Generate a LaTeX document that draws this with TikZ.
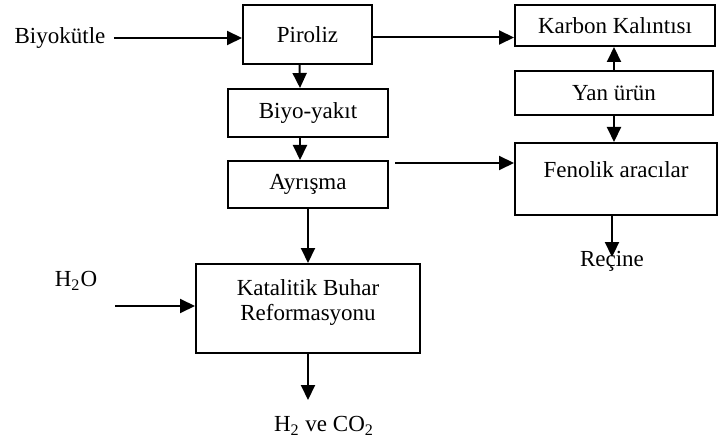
\documentclass[tikz,border=0pt]{standalone}
\usepackage{fontspec}
\setmainfont{Liberation Serif}
\usepackage{tikz}
\usetikzlibrary{arrows.meta}
\tikzstyle{Kutu}=[rectangle, draw=black, line width=1pt, inner sep=2pt, align=center, font=\fontsize{11.5}{12.5}\selectfont]
\tikzstyle{Etiket}=[inner sep=4pt, font=\fontsize{11.5}{12.5}\selectfont]
\tikzstyle{Ok}=[-{Triangle[length=7.5pt,width=7pt]}, line width=1pt]

\begin{document}
\begin{tikzpicture}[x=0.5pt, y=-0.5pt]
			\useasboundingbox (0,0) rectangle (727,443);
			%Kutular
			\node[Kutu, minimum width=64.5pt, minimum height=29.5pt]	(piroliz)	at (307.5,34.5)	{Piroliz};
			\node[Kutu, minimum width=80pt, minimum height=24pt]	(biyoyakit)	at (308,113)	{Biyo-yakıt};
			\node[Kutu, minimum width=80pt, minimum height=23.5pt]	(ayrisma)	at (308,184.5)	{Ayrışma};
			\node[Kutu, minimum width=112pt, minimum height=44.5pt, text depth=8.5pt]	(katalitik)	at (308,308.5)	{Katalitik Buhar\\Reformasyonu};

			\node[Kutu, minimum width=100pt, minimum height=20.5pt]	(karbon)	at (615,25.5)	{Karbon Kalıntısı};
			\node[Kutu, minimum width=99pt, minimum height=22pt]	(yanurun)	at (614,93)	{Yan ürün};
			\node[Kutu, minimum width=101pt, minimum height=36pt, text depth=9pt]	(fenolik)	at (616,179)	{Fenolik aracılar};

			%Etiketler
			\node[Etiket]	(biyokutle)	at (60,38)	{Biyokütle};
			\node[Etiket]	(su)	at (76,281)	{H\textsubscript{2}O};
			\node[Etiket, inner sep=2.5pt]	(recine)	at (612,261.5)	{Reçine};
			\node[Etiket]	(urunler)	at (324,426)	{H\textsubscript{2} ve CO\textsubscript{2}};

			\coordinate	(su_giris)	at (115,306);
			\coordinate	(ayrisma_cikis)	at (395,163);
			\coordinate	(urun_ucu)	at (308,400);

			%Oklar
			\draw[Ok] (biyokutle.east) -- (biyokutle.east -| piroliz.west);
			\draw[Ok] ([xshift=-4pt]piroliz.south) -- ([xshift=-4pt]biyoyakit.north);
			\draw[Ok] ([xshift=-4pt]biyoyakit.south) -- ([xshift=-4pt]ayrisma.north);
			\draw[Ok] (ayrisma.south) -- (katalitik.north);
			\draw[Ok] (su_giris) -- (su_giris -| katalitik.west);
			\draw[Ok] (katalitik.south) -- (urun_ucu);
			\draw[Ok] ([yshift=-1.5pt]piroliz.east) -- ([yshift=-1.5pt]piroliz.east -| karbon.west);
			\draw[Ok] (ayrisma_cikis) -- (ayrisma_cikis -| fenolik.west);
			\draw[Ok] (yanurun.north) -- (yanurun.north |- karbon.south);
			\draw[Ok] (yanurun.south) -- (yanurun.south |- fenolik.north);
			\draw[Ok] (recine.north |- fenolik.south) -- ([yshift=-5.5pt]recine.north);

		\end{tikzpicture}
\end{document}
